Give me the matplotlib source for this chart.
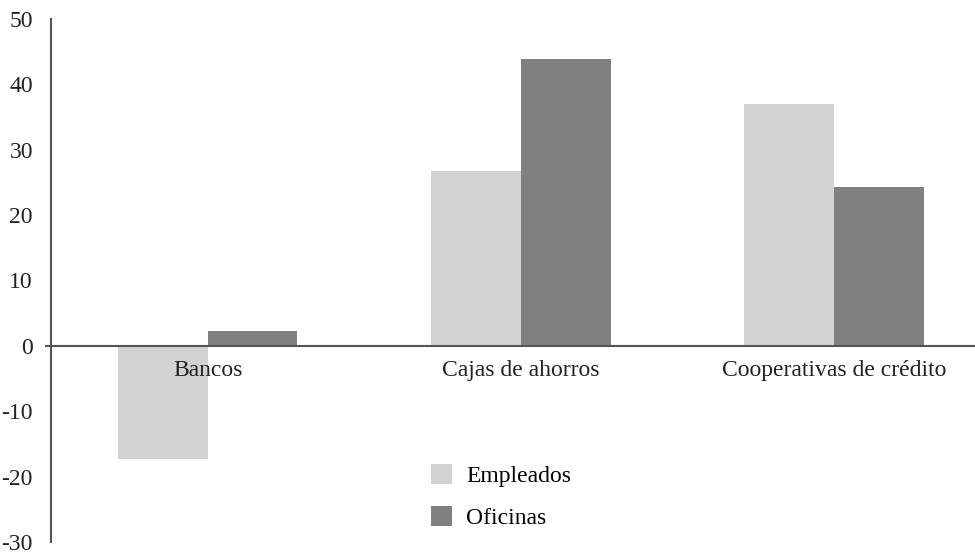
import matplotlib
matplotlib.use("Agg")
import matplotlib.pyplot as plt
import numpy as np

plt.rcParams['font.family'] = ['Liberation Serif', 'DejaVu Serif']

categorias = ['Bancos', 'Cajas de ahorros', 'Cooperativas de crédito']
empleados = [-17.3, 26.7, 37.0]
oficinas = [2.3, 43.8, 24.3]
series = ['Empleados', 'Oficinas']
colores = ['#d1d2d4', '#808083']
yticks = [-30, -20, -10, 0, 10, 20, 30, 40, 50]

fig = plt.figure(figsize=(9.75, 5.53), dpi=100)
ax = fig.add_axes([0.0523, 0.02, 0.9477, 0.946])

x = np.arange(len(categorias))
w = 0.287
ax.bar(x - w / 2, empleados, width=w, color=colores[0], label=series[0], zorder=2)
ax.bar(x + w / 2, oficinas, width=w, color=colores[1], label=series[1], zorder=2)

ax.set_xlim(-0.5, 2.45)
ax.set_ylim(-30, 50)
ax.set_yticks(yticks)
ax.set_yticklabels([str(t) for t in yticks], fontsize=17)
ax.tick_params(axis='y', length=0, pad=13, colors='#222222')
ax.set_xticks([])

for s in ['top', 'right', 'bottom']:
    ax.spines[s].set_visible(False)
ax.spines['left'].set_color('#555555')
ax.spines['left'].set_linewidth(1.5)
ax.axhline(0, color='#555555', lw=1.5, zorder=3, xmin=-0.005, clip_on=False)

for i, c in enumerate(categorias):
    ax.text(i, -3.8, c, ha='center', va='center', fontsize=17, color='#222222')

ax.legend(loc='upper left', bbox_to_anchor=(0.43, 0.182), bbox_transform=fig.transFigure,
          frameon=False, fontsize=17, handlelength=0.9, handleheight=0.9,
          handletextpad=0.6, labelspacing=0.82, borderpad=0)

fig.savefig('out.png', dpi=100)
